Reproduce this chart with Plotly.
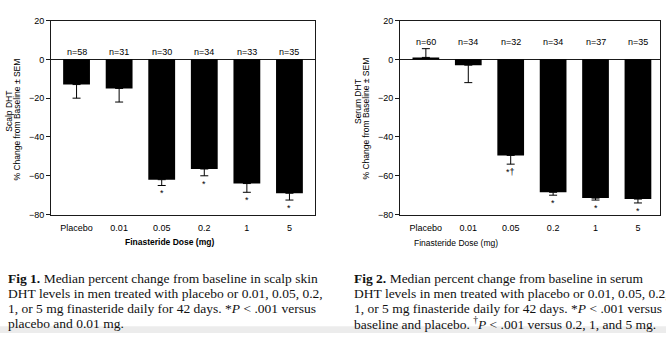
import plotly.graph_objects as go

W, H = 666, 338

doses = ["Placebo", "0.01", "0.05", "0.2", "1", "5"]
scalp_change = [-13, -15, -62, -56.5, -64, -69]
scalp_sem = [7, 7, 3, 3.5, 4.5, 3.5]
scalp_n = [58, 31, 30, 34, 33, 35]
scalp_sig = ["", "", "*", "*", "*", "*"]

serum_change = [1, -3, -49.5, -68.5, -71.5, -72]
serum_sem = [4.5, 9, 4.5, 1.5, 1, 2]
serum_n = [60, 34, 32, 34, 37, 35]
serum_sig = ["", "", "*\u2020", "*", "*", "*"]

yticks = [20, 0, -20, -40, -60, -80]

caption1 = [
    "<b>Fig 1.</b> Median percent change from baseline in scalp skin",
    "DHT levels in men treated with placebo or 0.01, 0.05, 0.2,",
    "1, or 5 mg finasteride daily for 42 days. *<i>P</i> < .001 versus",
    "placebo and 0.01 mg.",
]
caption2 = [
    "<b>Fig 2.</b> Median percent change from baseline in serum",
    "DHT levels in men treated with placebo or 0.01, 0.05, 0.2,",
    "1, or 5 mg finasteride daily for 42 days. *<i>P</i> < .001 versus",
    "baseline and placebo. <sup>\u2020</sup><i>P</i> < .001 versus 0.2, 1, and 5 mg.",
]

SANS = "Liberation Sans"
SERIF = "Liberation Serif"


def px(x):
    return x / W


def py(y):
    return 1 - y / H


fig = go.Figure()


def add_panel(change, sem, xa, ya):
    up = [s if v >= 0 else 0 for v, s in zip(change, sem)]
    dn = [s if v < 0 else 0 for v, s in zip(change, sem)]
    fig.add_trace(go.Bar(
        x=doses, y=change, xaxis=xa, yaxis=ya,
        marker=dict(color="black", line=dict(width=0)),
        error_y=dict(type="data", symmetric=False, array=up, arrayminus=dn,
                     color="black", thickness=1, width=4),
        showlegend=False,
    ))


add_panel(scalp_change, scalp_sem, "x", "y")
add_panel(serum_change, serum_sem, "x2", "y2")

ydom = [py(216), py(16)]
axis_common = dict(showline=True, mirror=True, linecolor="#1a1a1a", linewidth=1,
                   showgrid=False)
fig.update_layout(
    width=W, height=H, autosize=False,
    margin=dict(l=0, r=0, t=0, b=0),
    paper_bgcolor="white", plot_bgcolor="white",
    bargap=0.37,
    font=dict(family=SANS, color="black", size=9),
    xaxis=dict(domain=[px(51), px(315)], type="category", range=[-0.6, 5.6],
               ticks="", tickfont=dict(size=9, family=SANS), ticklabelstandoff=5,
               anchor="y", zeroline=False, **axis_common),
    yaxis=dict(domain=ydom, range=[-80, 20], tickvals=yticks, ticks="outside",
               ticklen=4, tickcolor="#1a1a1a", tickfont=dict(size=9, family=SANS),
               zeroline=True, zerolinecolor="#1a1a1a", zerolinewidth=1,
               anchor="x", **axis_common),
    xaxis2=dict(domain=[px(400), px(660)], type="category", range=[-0.61, 5.52],
                ticks="", tickfont=dict(size=9, family=SANS), ticklabelstandoff=5,
                anchor="y2", zeroline=False, **axis_common),
    yaxis2=dict(domain=ydom, range=[-80, 20], tickvals=yticks, ticks="outside",
                ticklen=4, tickcolor="#1a1a1a", tickfont=dict(size=9, family=SANS),
                zeroline=True, zerolinecolor="#1a1a1a", zerolinewidth=1,
                anchor="x2", **axis_common),
)

ann = []
# n labels and significance marks (category index positions)
for xr, yr, change, sem, ns, sig, ny in [
    ("x", "y", scalp_change, scalp_sem, scalp_n, scalp_sig, 4),
    ("x2", "y2", serum_change, serum_sem, serum_n, serum_sig, 9),
]:
    for i, (v, s, n, g) in enumerate(zip(change, sem, ns, sig)):
        ann.append(dict(x=i, y=ny, xref=xr, yref=yr, text=f"n={n}", showarrow=False,
                        font=dict(size=9, family=SANS)))
        if g:
            ann.append(dict(x=i, y=v - s, xref=xr, yref=yr, text=g, showarrow=False,
                            yanchor="top", yshift=-1, font=dict(size=9, family=SANS)))

# y-axis titles
for x, y, t in [(9, 110, "Scalp DHT"), (17, 118, "% Change from Baseline \u00b1 SEM"),
                (358, 100, "Serum DHT"), (366, 117, "% Change from Baseline \u00b1 SEM")]:
    ann.append(dict(x=px(x), y=py(y), xref="paper", yref="paper", text=t, textangle=-90,
                    showarrow=False, xanchor="center", yanchor="middle",
                    font=dict(size=8.5, family=SANS)))

# x-axis titles
ann.append(dict(x=px(123), y=py(251), xref="paper", yref="paper",
                text="<b>Finasteride Dose (mg)</b>", showarrow=False,
                font=dict(size=8.5, family=SANS)))
ann.append(dict(x=px(500), y=py(252), xref="paper", yref="paper",
                text="Finasteride Dose (mg)", showarrow=False,
                font=dict(size=8.5, family=SANS)))

# captions
for x0, lines in [(6, caption1), (352, caption2)]:
    for i, line in enumerate(lines):
        ann.append(dict(x=px(x0), y=py(281.5 + 15.5 * i), xref="paper", yref="paper",
                        text=line, showarrow=False, xanchor="left", yanchor="middle",
                        font=dict(size=13.5, family=SERIF, color="#111")))

fig.update_layout(annotations=ann)
fig.add_shape(type="rect", xref="paper", yref="paper", x0=0, x1=1, y0=0, y1=py(331),
              fillcolor="#ececec", line=dict(width=0), layer="below")

fig.write_html("out.html")
